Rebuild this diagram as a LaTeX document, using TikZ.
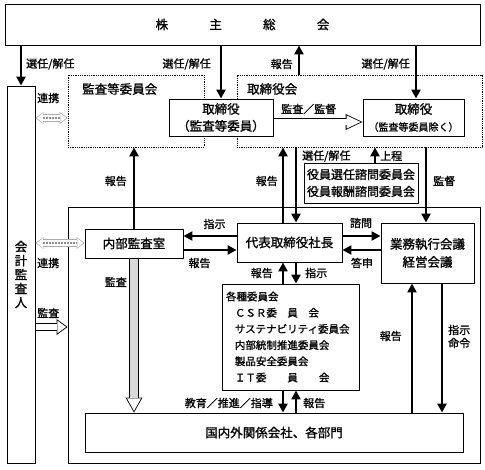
\documentclass[tikz,border=0pt]{standalone}
\usepackage{fontspec}
\setmainfont{Noto Sans CJK JP}[FakeBold=1.2]
\usetikzlibrary{arrows.meta, positioning, calc}
\tikzset{
  orgbox/.style={draw,line width=0.9pt,fill=white,inner sep=0pt,align=center,font=\fontsize{12.5}{17}\selectfont},
  dotbox/.style={draw,densely dotted,line width=0.8pt,inner sep=0pt},
  listbox/.style={orgbox,align=left,text width=129pt,inner xsep=4pt,font=\fontsize{10.5}{16.2}\selectfont},
  lbl/.style={inner sep=0pt,font=\fontsize{11}{13}\selectfont},
  ttl/.style={inner sep=0pt,font=\fontsize{12.5}{15}\selectfont},
  relation/.style={line width=2.8pt,-{Triangle[width=9pt,length=9pt]}},
  % hollow arrows: outline first, then the inside
  kanshi/.style={line width=7pt,-{Triangle[width=16pt,length=17pt,line width=0pt]}},
  kanshiin/.style={white,line width=5.2pt,shorten <=0.5pt,shorten >=1.9pt,-{Triangle[width=13pt,length=14pt,line width=0pt]}},
  kansaL/.style={line width=8pt,-{Triangle[width=16pt,length=11pt,line width=0pt]}},
  kansaLin/.style={white,line width=6.2pt,shorten <=0.5pt,shorten >=1.5pt,-{Triangle[width=12.5pt,length=8.6pt,line width=0pt]}},
  kansa/.style={line width=10pt,-{Triangle[width=17pt,length=15pt,line width=0pt]}},
  kansain/.style={gray!30,line width=8.4pt,shorten <=0.5pt,shorten >=1.7pt,-{Triangle[width=14pt,length=12.5pt,line width=0pt,color=white]}},
  renkei/.style={gray!65,line width=7.5pt,{Triangle[width=12pt,length=8pt,line width=0pt]}-{Triangle[width=12pt,length=8pt,line width=0pt]}},
  renkeiin/.style={white,line width=6pt,shorten <=1.3pt,shorten >=1.3pt,{Triangle[width=9.6pt,length=6pt,line width=0pt]}-{Triangle[width=9.6pt,length=6pt,line width=0pt]}},
  renkeidot/.style={draw=gray!90,densely dotted,line width=2pt,shorten <=8pt,shorten >=8pt},
}
\begin{document}
\begin{tikzpicture}[x=1pt,y=-1pt]
\useasboundingbox (0,0) rectangle (485,470);
% boxes
\node[orgbox,minimum width=475pt,minimum height=41pt] (gm) at (242.5,24.5) {株\hspace{3.3em}主\hspace{3.3em}総\hspace{3.3em}会};
\node[orgbox,minimum width=28pt,minimum height=377pt,font=\fontsize{12.5}{14}\selectfont] (auditor) at (21,274.5) {会\\計\\監\\査\\人};
\node[dotbox,minimum width=136pt,minimum height=72pt] (acb) at (136,111) {};
\node[dotbox,minimum width=245pt,minimum height=72pt] (bod) at (359.5,111) {};
\node[ttl,anchor=west] (acbtitle) at (82,89) {監査等委員会};
\node[ttl,anchor=west] (bodtitle) at (247,89) {取締役会};
\node[orgbox,minimum width=412pt,minimum height=256pt] (company) at (274,335) {};
\node[orgbox,minimum width=104pt,minimum height=37pt] (dirA) at (221,117.5) {取締役\\（監査等委員）};
\node[orgbox,minimum width=101pt,minimum height=37pt] (dirB) at (413.5,117.5) {取締役\\{\fontsize{10}{12}\selectfont（監査等委員除く）}};
\node[orgbox,minimum width=114pt,minimum height=40pt,font=\fontsize{12}{17}\selectfont] (nom) at (361,183) {役員選任諮問委員会\\役員報酬諮問委員会};
\node[orgbox,minimum width=98pt,minimum height=29pt] (ia) at (134,243.5) {内部監査室};
\node[orgbox,minimum width=105pt,minimum height=39pt] (ceo) at (289.5,242.5) {代表取締役社長};
\node[orgbox,minimum width=93pt,minimum height=60pt,font=\fontsize{12.5}{18}\selectfont] (exec) at (427.5,253) {業務執行会議\\経営会議};
\node[listbox,minimum height=106pt] (comm) at (290.5,337) {各種委員会\\
  \hspace*{0.85em}ＣＳＲ委　員　会\\
  \hspace*{0.85em}サステナビリティ委員会\\
  \hspace*{0.85em}内部統制推進委員会\\
  \hspace*{0.85em}製品安全委員会\\
  \hspace*{0.85em}ＩＴ委　　員　　会};
\node[orgbox,minimum width=378pt,minimum height=39pt] (dom) at (274,432.5) {国内外関係会社、各部門};
% helper coordinates
\coordinate (kA) at (299,0);
\coordinate (kB) at (416,0);
\coordinate (kC) at (283,0);
\coordinate (kD) at (296,0);
\coordinate (kE) at (375,0);
\coordinate (kF) at (426,0);
\coordinate (kH) at (412,0);
\coordinate (kI) at (442,0);
\coordinate (yA) at (0,118);
\coordinate (yB) at (0,122);
\coordinate (yC) at (0,236);
\coordinate (yD) at (0,250);
\coordinate (yE) at (0,243);
\coordinate (yF) at (0,327);
% connectors
\draw[relation] (gm.south -| auditor) -- (auditor.north);
\draw[relation] (gm.south -| dirA) -- (dirA.north);
\draw[relation] (bod.north -| kA) -- (gm.south -| kA);
\draw[relation] (gm.south -| kB) -- (dirB.north -| kB);
\draw[renkei] (auditor.east |- yA) -- (acb.west |- yA);
\draw[renkeiin] (auditor.east |- yA) -- (acb.west |- yA);
\draw[renkeidot] (auditor.east |- yA) -- (acb.west |- yA);
\draw[kanshi] (dirA.east |- yB) -- (dirB.west |- yB);
\draw[kanshiin] (dirA.east |- yB) -- (dirB.west |- yB);
\draw[relation] (ia.north) -- (ia.north |- acb.south);
\draw[relation] (ceo.north -| kC) -- (bod.south -| kC);
\draw[relation] (bod.south -| kD) -- (ceo.north -| kD);
\draw[relation] (nom.north -| kE) -- (bod.south -| kE);
\draw[relation] (bod.south -| kF) -- (exec.north -| kF);
\draw[relation] (ceo.west |- yC) -- (ia.east |- yC);
\draw[relation] (ia.east |- yD) -- (ceo.west |- yD);
\draw[relation] (ceo.east |- yC) -- (exec.west |- yC);
\draw[relation] (exec.west |- yD) -- (ceo.east |- yD);
\draw[renkei] (auditor.east |- yE) -- (ia.west |- yE);
\draw[renkeiin] (auditor.east |- yE) -- (ia.west |- yE);
\draw[renkeidot] (auditor.east |- yE) -- (ia.west |- yE);
\draw[relation] (comm.north -| kC) -- (ceo.south -| kC);
\draw[relation] (ceo.south -| kD) -- (comm.north -| kD);
\draw[kansa] (ia.south) -- (ia.south |- dom.north);
\draw[kansain] (ia.south) -- (ia.south |- dom.north);
\draw[kansaL] (auditor.east |- yF) -- (company.west |- yF);
\draw[kansaLin] (auditor.east |- yF) -- (company.west |- yF);
\draw[relation] (comm.south -| kC) -- (dom.north -| kC);
\draw[relation] (dom.north -| kD) -- (comm.south -| kD);
\draw[relation] (dom.north -| kH) -- (exec.south -| kH);
\draw[relation] (exec.south -| kI) -- (dom.north -| kI);
% labels
\node[lbl,anchor=west] (t1) at (26,64) {選任/解任};
\node[lbl,anchor=east] (t2) at (211,64) {選任/解任};
\node[lbl,anchor=east] (t3) at (293,64) {報告};
\node[lbl,anchor=east] (t4) at (410,64) {選任/解任};
\node[lbl,anchor=west] (t5) at (37,98) {連携};
\node[lbl,anchor=west] (t6) at (281,109) {監査／監督};
\node[lbl,anchor=east] (t7) at (127,181) {報告};
\node[lbl,anchor=east] (t8) at (278,181) {報告};
\node[lbl,anchor=west] (t9) at (302,156) {選任/解任};
\node[lbl,anchor=west] (t10) at (380,156) {上程};
\node[lbl,anchor=west] (t11) at (433,181) {監督};
\node[lbl] (t12) at (214.5,224) {指示};
\node[lbl] (t13) at (199.5,263) {報告};
\node[lbl] (t14) at (361,223) {諮問};
\node[lbl] (t15) at (362,263) {答申};
\node[lbl,anchor=west] (t16) at (37,263) {連携};
\node[lbl,anchor=east] (t17) at (273,273) {報告};
\node[lbl,anchor=west] (t18) at (305,273) {指示};
\node[lbl,anchor=east] (t19) at (127,282) {監査};
\node[lbl,anchor=west] (t20) at (37,313) {監査};
\node[lbl,anchor=east] (t21) at (273,403) {教育／推進／指導};
\node[lbl,anchor=west] (t22) at (303,403) {報告};
\node[lbl,anchor=east] (t23) at (402,336) {報告};
\node[lbl,anchor=west,align=left] (t24) at (448,336.5) {指示\\命令};
\end{tikzpicture}
\end{document}
